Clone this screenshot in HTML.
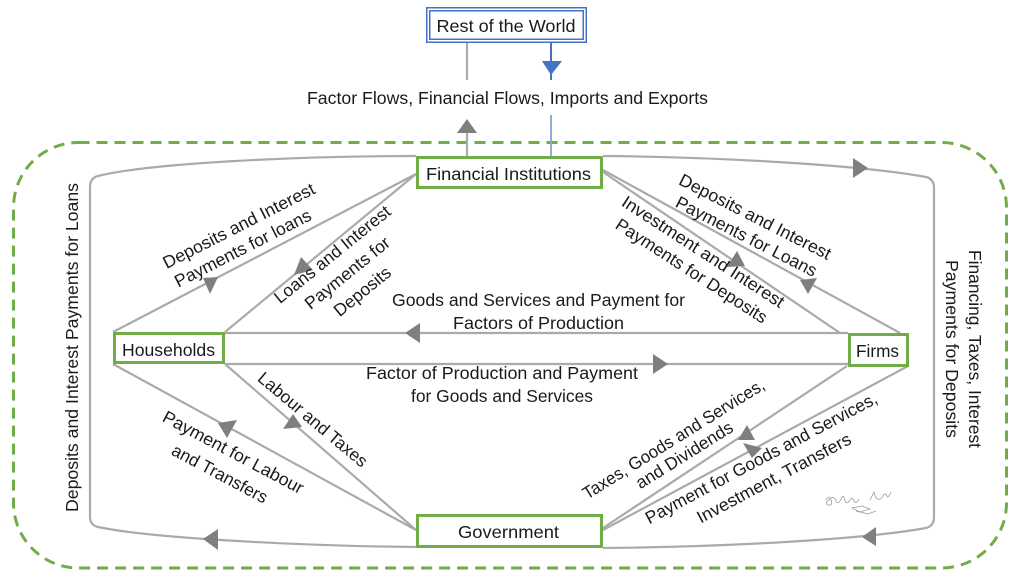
<!DOCTYPE html>
<html><head><meta charset="utf-8"><style>
html,body{margin:0;padding:0;background:#fff;}
svg{display:block;}
text{font-family:"Liberation Sans",sans-serif;font-size:17.5px;fill:#1a1a1a;}
</style></head><body>
<svg width="1022" height="579" viewBox="0 0 1022 579" xmlns="http://www.w3.org/2000/svg">
<rect width="1022" height="579" fill="#fff"/>

<!-- dashed boundary -->
<rect x="13.5" y="142.5" width="993" height="425.5" rx="65" ry="65" fill="none" stroke="#70ad47" stroke-width="3" stroke-dasharray="11 7"/>

<!-- gray connectors -->
<g fill="none" stroke="#aaaaaa" stroke-width="2.2">
  <!-- outer left loop -->
  <path d="M416,156 C300,156 150,163 98,176 Q90,178 90,187 L90,517 Q90,525 98,527 C150,538 300,546 416,547"/>
  <!-- outer right loop -->
  <path d="M603,156 C720,157 860,165 926,177 Q934,179 934,188 L934,517 Q934,526 926,528 C860,540 720,547 603,548"/>
  <!-- households to FI -->
  <line x1="113" y1="332" x2="416" y2="174"/>
  <line x1="225" y1="332" x2="416" y2="174"/>
  <!-- FI to firms -->
  <line x1="603" y1="172" x2="840" y2="333"/>
  <line x1="603" y1="170" x2="900" y2="333"/>
  <!-- horizontals -->
  <line x1="225" y1="333" x2="848" y2="333"/>
  <line x1="225" y1="364" x2="848" y2="364"/>
  <!-- households to government -->
  <line x1="113" y1="364" x2="416" y2="530"/>
  <line x1="225" y1="364" x2="416" y2="530"/>
  <!-- firms to government -->
  <line x1="847" y1="366" x2="603" y2="528"/>
  <line x1="908" y1="366" x2="603" y2="530"/>
  <!-- top vertical gray -->
  <line x1="467" y1="43" x2="467" y2="80"/>
  <line x1="467" y1="130" x2="467" y2="156"/>
</g>
<!-- blue vertical -->
<line x1="551" y1="43" x2="551" y2="64" stroke="#4472c4" stroke-width="2"/>
<line x1="551" y1="74" x2="551" y2="80" stroke="#4472c4" stroke-width="2"/>
<line x1="551" y1="115" x2="551" y2="156" stroke="#8faadc" stroke-width="2"/>

<!-- arrowheads -->
<g fill="#7f7f7f">
  <polygon points="467,119 457,133 477,133"/>
  <polygon points="853,158 853,178 868,168"/>
  <polygon points="727,267 737,251 745,266"/>
  <polygon points="800,280 817,278 808,294"/>
  <polygon points="405,333 420,323 420,343"/>
  <polygon points="653,354 653,374 668,364"/>
  <polygon points="218,423 237,420 227,438"/>
  <polygon points="283,429 293,414 302,427"/>
  <polygon points="738,440 747,425 755,440"/>
  <polygon points="743,443 762,448 752,458"/>
  <polygon points="203,539 218,529 218,550"/>
  <polygon points="862,537 876,527 876,546"/>
  <polygon points="203,278 218,277 210,294"/>
  <polygon points="301,257 294,275 313,270"/>
</g>
<polygon points="542,61 562,61 551,75" fill="#4472c4"/>

<!-- boxes -->
<rect x="426.75" y="7.75" width="159.5" height="34.5" fill="#fff" stroke="#4472c4" stroke-width="1.5"/>
<rect x="429.75" y="10.75" width="153.5" height="28.5" fill="#fff" stroke="#4472c4" stroke-width="1.5"/>
<rect x="417.5" y="157.5" width="184" height="30" fill="#fff" stroke="#70ad47" stroke-width="3"/>
<rect x="114.5" y="333.5" width="109" height="29" fill="#fff" stroke="#70ad47" stroke-width="3"/>
<rect x="849.5" y="334.5" width="58" height="31" fill="#fff" stroke="#70ad47" stroke-width="3"/>
<rect x="417.5" y="515.5" width="184" height="31" fill="#fff" stroke="#70ad47" stroke-width="3"/>

<!-- box labels -->
<text x="506" y="32" text-anchor="middle" textLength="139" lengthAdjust="spacingAndGlyphs">Rest of the World</text>
<text x="508.5" y="180" text-anchor="middle" textLength="165" lengthAdjust="spacingAndGlyphs">Financial Institutions</text>
<text x="168.5" y="356" text-anchor="middle" textLength="93" lengthAdjust="spacingAndGlyphs">Households</text>
<text x="877.5" y="357" text-anchor="middle" textLength="43" lengthAdjust="spacingAndGlyphs">Firms</text>
<text x="508.5" y="538" text-anchor="middle" textLength="101" lengthAdjust="spacingAndGlyphs">Government</text>

<!-- horizontal labels -->
<text x="507.5" y="104" text-anchor="middle" textLength="401" lengthAdjust="spacingAndGlyphs">Factor Flows, Financial Flows, Imports and Exports</text>
<text x="538.5" y="306" text-anchor="middle" textLength="293" lengthAdjust="spacingAndGlyphs">Goods and Services and Payment for</text>
<text x="538.5" y="329" text-anchor="middle" textLength="171" lengthAdjust="spacingAndGlyphs">Factors of Production</text>
<text x="502" y="379" text-anchor="middle" textLength="272" lengthAdjust="spacingAndGlyphs">Factor of Production and Payment</text>
<text x="502" y="402" text-anchor="middle" textLength="182" lengthAdjust="spacingAndGlyphs">for Goods and Services</text>

<!-- rotated labels -->
<text transform="translate(241.5,231) rotate(-27)" text-anchor="middle" textLength="168" lengthAdjust="spacingAndGlyphs">Deposits and Interest</text>
<text transform="translate(245.5,253.5) rotate(-27)" text-anchor="middle" textLength="151" lengthAdjust="spacingAndGlyphs">Payments for loans</text>

<text transform="translate(336,259) rotate(-39)" text-anchor="middle" textLength="144" lengthAdjust="spacingAndGlyphs">Loans and Interest</text>
<text transform="translate(351,277.5) rotate(-39)" text-anchor="middle" textLength="104" lengthAdjust="spacingAndGlyphs">Payments for</text>
<text transform="translate(366,296) rotate(-39)" text-anchor="middle" textLength="68" lengthAdjust="spacingAndGlyphs">Deposits</text>

<text transform="translate(752.5,222) rotate(27)" text-anchor="middle" textLength="168" lengthAdjust="spacingAndGlyphs">Deposits and Interest</text>
<text transform="translate(743.7,241.7) rotate(27)" text-anchor="middle" textLength="156" lengthAdjust="spacingAndGlyphs">Payments for Loans</text>

<text transform="translate(700,256.7) rotate(33)" text-anchor="middle" textLength="190" lengthAdjust="spacingAndGlyphs">Investment and Interest</text>
<text transform="translate(688.3,275.8) rotate(33)" text-anchor="middle" textLength="177" lengthAdjust="spacingAndGlyphs">Payments for Deposits</text>

<text transform="translate(309,424) rotate(40)" text-anchor="middle" textLength="137" lengthAdjust="spacingAndGlyphs">Labour and Taxes</text>

<text transform="translate(230.5,457.5) rotate(28)" text-anchor="middle" textLength="157" lengthAdjust="spacingAndGlyphs">Payment for Labour</text>
<text transform="translate(217,479) rotate(28)" text-anchor="middle" textLength="106" lengthAdjust="spacingAndGlyphs">and Transfers</text>

<text transform="translate(676.7,444) rotate(-32)" text-anchor="middle" textLength="211" lengthAdjust="spacingAndGlyphs">Taxes, Goods and Services,</text>
<text transform="translate(687.5,460) rotate(-32)" text-anchor="middle" textLength="111" lengthAdjust="spacingAndGlyphs">and Dividends</text>

<text transform="translate(764,463.3) rotate(-28)" text-anchor="middle" textLength="260" lengthAdjust="spacingAndGlyphs">Payment for Goods and Services,</text>
<text transform="translate(776.7,483.3) rotate(-28)" text-anchor="middle" textLength="172" lengthAdjust="spacingAndGlyphs">Investment, Transfers</text>

<text transform="translate(78,347.5) rotate(-90)" text-anchor="middle" textLength="329" lengthAdjust="spacingAndGlyphs">Deposits and Interest Payments for Loans</text>

<text transform="translate(969,349) rotate(90)" text-anchor="middle" textLength="198" lengthAdjust="spacingAndGlyphs">Financing, Taxes, Interest</text>
<text transform="translate(946,349) rotate(90)" text-anchor="middle" textLength="178" lengthAdjust="spacingAndGlyphs">Payments for Deposits</text>

<!-- signature scribble -->
<g fill="none" stroke="#9a9a9a" stroke-width="0.8">
  <path d="M826,500 q3,-6 5,0 q2,6 -3,5 q-4,-2 2,-6 q4,-4 6,2 q2,4 5,-2 q3,-6 4,2 q2,4 5,-1 q2,-4 4,1 q2,4 5,-2"/>
  <path d="M870,500 l4,-8 q1,6 4,7 q3,1 5,-3 q2,-4 4,0 q1,3 4,-4"/>
  <path d="M852,508 l8,4 l10,-3 l-8,-3 z"/>
  <path d="M856,511 l12,3 l8,-3"/>
</g>
</svg>
</body></html>
